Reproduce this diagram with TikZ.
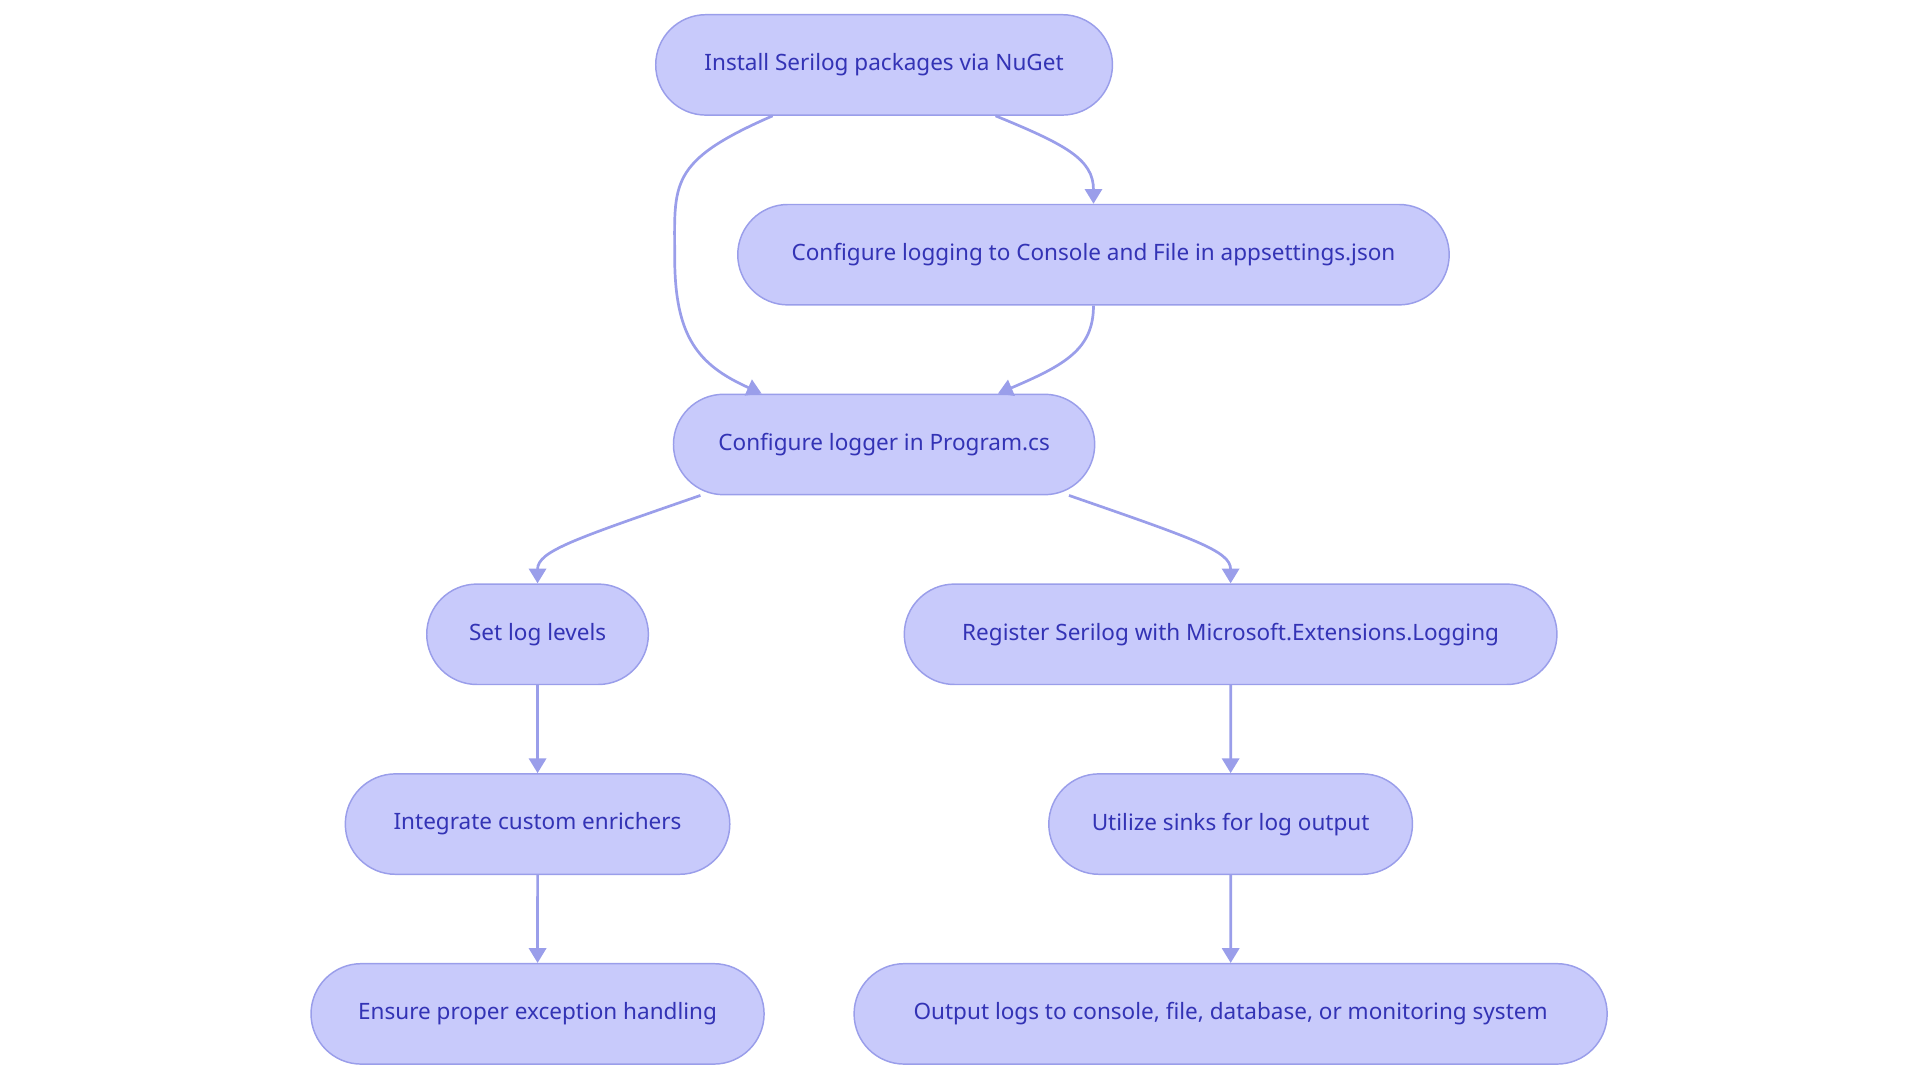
\documentclass[tikz,border=0pt]{standalone}
\usepackage{fontspec}
\setmainfont{Noto Sans}
\usetikzlibrary{arrows.meta,positioning,shapes.misc,calc}
\definecolor{boxfill}{HTML}{C8CAFB}
\definecolor{boxline}{HTML}{9A9EEA}
\definecolor{boxtext}{HTML}{3333B5}
\tikzset{
  stage/.style={rounded rectangle, draw=boxline, fill=boxfill, line width=0.6pt,
    text=boxtext, minimum height=41pt, inner xsep=0pt, font=\fontsize{9.2}{11}\selectfont},
  flow/.style={draw=boxline, line width=1.1pt, -{Triangle[length=6pt,width=7pt]}}
}
\begin{document}
\begin{tikzpicture}[x=0.5pt,y=-0.5pt]
\useasboundingbox (0,0) rectangle (1568,882);
% stages
\node[stage, minimum width=186.5pt] (install) at (722,53) {Install Serilog packages via NuGet};
\node[stage, minimum width=290.5pt] (appset) at (893,208) {Configure logging to Console and File in appsettings.json};
\node[stage, minimum width=172pt] (logger) at (722,363) {Configure logger in Program.cs};
\node[stage, minimum width=90.5pt] (levels) at (439,518) {Set log levels};
\node[stage, minimum width=266.5pt] (register) at (1005,518) {Register Serilog with Microsoft.Extensions.Logging};
\node[stage, minimum width=157pt] (enrich) at (439,673) {Integrate custom enrichers};
\node[stage, minimum width=148.5pt] (sinks) at (1005,673) {Utilize sinks for log output};
\node[stage, minimum width=185pt] (except) at (439,828) {Ensure proper exception handling};
\node[stage, minimum width=307.5pt] (output) at (1005,828) {Output logs to console, file, database, or monitoring system};

% connectors
\draw[flow] ($(install.south)+(-91,0)$) .. controls (545,132) and (551,150) .. (551,210)
  .. controls (551,275) and (570,298) .. ($(logger.north)+(-100,0)$);
\draw[flow] ($(install.south)+(91,0)$) .. controls (870,118) and (893,130) .. (appset.north);
\draw[flow] (appset.south) .. controls (893,285) and (870,298) .. ($(logger.north)+(93,0)$);
\draw[flow] ($(logger.south)+(-150,0)$) .. controls (470,440) and (439,450) .. (levels.north);
\draw[flow] ($(logger.south)+(151,0)$) .. controls (975,440) and (1005,450) .. (register.north);
\draw[flow] (levels) -- (enrich);
\draw[flow] (enrich) -- (except);
\draw[flow] (register) -- (sinks);
\draw[flow] (sinks) -- (output);
\end{tikzpicture}
\end{document}
